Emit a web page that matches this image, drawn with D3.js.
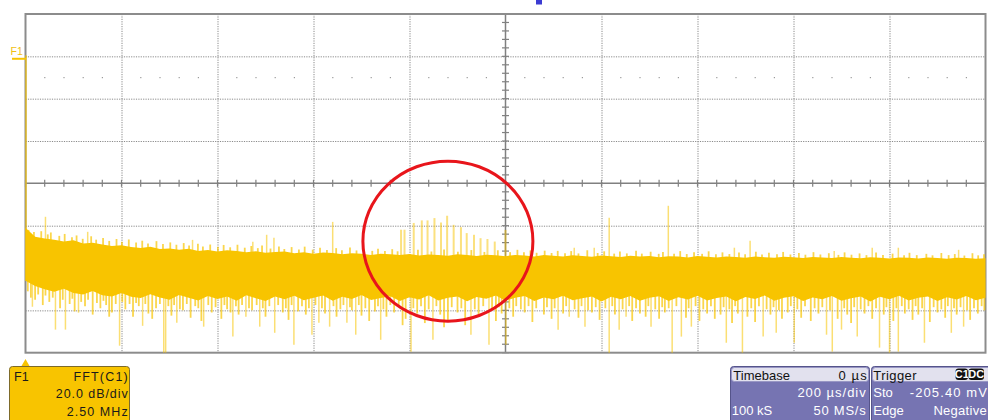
<!DOCTYPE html>
<html>
<head>
<meta charset="utf-8">
<script src="https://cdn.jsdelivr.net/npm/d3@7"></script>
<style>
  html, body { margin: 0; padding: 0; background: #fff; }
  svg { display: block; font-family: "Liberation Sans", Arial, sans-serif; }
</style>
</head>
<body>
<svg id="scope" width="988" height="420"></svg>
<script>
// ---- spectrum settings: 10 div x 2.50 MHz, 8 div x 20 dB ----
const spanMHz = 25;
const dbTop = 0, dbBottom = -160;
const freqTicks = [0, 2.5, 5, 7.5, 10, 12.5, 15, 17.5, 20, 22.5, 25];
const dbTicks = [0, -20, -40, -60, -80, -100, -120, -140, -160];
const refDotLevel = -30;          // dotted reference row
const binStep = 0.25;             // MHz between envelope samples
const dcLevel = -19.5;            // DC bin

// upper edge of the dense noise band (dB), one value per 0.25 MHz
const bandTop = [
  -101.0,-105.2,-106.1,-106.6,-107.5,-106.9,-108.4,-108.1,-108.9,-109.6,
  -109.2,-110.1,-110.5,-109.9,-111.0,-110.8,-111.4,-110.9,-111.9,-111.5,
  -112.2,-111.6,-111.9,-112.6,-112.1,-112.8,-112.4,-112.2,-113.0,-112.6,
  -113.3,-112.7,-112.9,-113.5,-113.0,-113.2,-113.8,-113.3,-113.5,-113.9,
  -113.4,-114.1,-113.6,-113.8,-114.2,-113.5,-113.9,-114.3,-113.7,-114.0,
  -114.4,-113.8,-114.1,-114.5,-113.9,-114.2,-114.6,-114.0,-114.3,-114.7,
  -114.1,-114.4,-114.8,-114.2,-114.5,-114.3,-114.9,-114.4,-114.6,-115.0,
  -114.3,-114.7,-115.0,-114.5,-114.8,-115.1,-114.6,-114.9,-115.2,-114.7,
  -114.9,-115.3,-114.8,-115.0,-115.3,-114.8,-115.1,-115.4,-114.9,-115.2,
  -115.5,-115.0,-115.2,-115.5,-115.0,-115.3,-115.6,-115.1,-115.3,-115.6,
  -115.4
];

// lower edge of the dense noise band (dB)
const bandBottom = [
  -126.0,-128.5,-130.0,-131.2,-129.8,-131.8,-132.5,-130.9,-132.9,-133.4,
  -131.8,-133.6,-134.2,-132.4,-133.9,-135.0,-132.8,-134.1,-135.3,-133.2,
  -134.6,-133.5,-135.4,-132.9,-134.3,-135.6,-133.4,-134.8,-133.1,-135.2,
  -134.0,-133.0,-135.5,-133.6,-134.6,-132.8,-135.1,-134.2,-133.3,-135.6,
  -133.8,-134.9,-132.9,-135.3,-134.0,-133.4,-135.7,-133.7,-134.5,-133.0,
  -135.4,-134.1,-133.2,-135.6,-133.9,-134.8,-133.1,-135.2,-134.3,-133.5,
  -135.8,-133.6,-134.7,-133.2,-135.4,-134.0,-133.3,-135.6,-133.8,-134.9,
  -133.1,-135.3,-134.2,-133.4,-135.7,-133.7,-134.6,-133.0,-135.5,-134.1,
  -133.3,-135.6,-133.9,-134.8,-133.2,-135.4,-134.3,-133.5,-135.8,-133.6,
  -134.7,-133.1,-135.3,-134.0,-133.4,-135.6,-133.8,-134.9,-133.2,-135.2,
  -134.0
];

// harmonic comb around 10-12.5 MHz [MHz, dB]
const harmonics = [
  [9.78,-101.9],[9.87,-101.9],[10.11,-98.7],[10.32,-97.5],[10.47,-97.5],
  [10.65,-96.4],[10.82,-98.5],[10.98,-95.3],[11.15,-99.6],[11.34,-100.7],
  [11.49,-103.5],[11.68,-104.3],[11.85,-105.9],[12.03,-106.3],[12.22,-107.5],
  [12.50,-102.0]
];

// isolated tall lines above the band [MHz, dB]
const upSpikes = [
  [0.52,-95.8],[1.62,-102.9],[4.35,-106.7],[5.92,-107.6],[6.28,-104.3],
  [6.47,-105.7],[8.00,-98.2],[14.29,-110.4],[14.81,-110.4],[15.20,-96.3],
  [16.74,-90.6],[18.46,-110.4],[18.87,-107.1],[21.06,-111.9],[22.05,-110.4],
  [22.73,-110.4],[24.30,-111.4]
];

// short excursions along the top edge [MHz, dB]
const upFringe = [
  [0.08,-102.0],[0.22,-103.0],[0.41,-102.6],[0.58,-104.1],[0.66,-103.2],[0.88,-104.8],
  [1.02,-103.9],[1.21,-105.5],[1.33,-104.6],[1.49,-106.2],[1.71,-105.0],[1.84,-106.6],
  [2.02,-105.8],[2.18,-107.2],[2.37,-106.3],[2.51,-107.6],[2.69,-106.5],[2.88,-108.0],
  [3.04,-107.1],[3.19,-108.4],[3.41,-107.3],[3.58,-108.6],[3.77,-107.9],[3.93,-109.0],
  [4.12,-108.2],[4.26,-109.4],[4.49,-108.5],[4.62,-109.8],[4.81,-108.9],[5.01,-110.0],
  [5.16,-109.1],[5.33,-110.2],[5.52,-109.0],[5.71,-110.4],[5.88,-109.6],[6.05,-110.6],
  [6.16,-109.4],[6.38,-110.8],[6.60,-109.8],[6.74,-111.0],[6.93,-110.1],[7.12,-111.2],
  [7.27,-109.9],[7.48,-111.3],[7.67,-110.4],[7.85,-111.5],[8.09,-110.6],[8.24,-111.6],
  [8.45,-110.3],[8.62,-111.7],[8.81,-110.8],[9.03,-111.9],[9.18,-110.9],[9.36,-112.0],
  [9.55,-111.1],[9.69,-112.1],[10.22,-111.4],[10.57,-112.2],[10.90,-111.3],[11.26,-112.3],
  [11.61,-111.5],[11.95,-112.4],[12.30,-111.6],[12.62,-112.5],[12.81,-111.4],[12.98,-112.6],
  [13.15,-111.7],[13.31,-112.8],[13.52,-111.8],[13.70,-112.9],[13.86,-111.9],[14.05,-113.0],
  [14.21,-112.0],[14.40,-113.1],[14.63,-111.6],[14.90,-112.9],[15.07,-112.1],[15.33,-113.2],
  [15.48,-112.2],[15.66,-113.1],[15.90,-111.8],[16.05,-113.2],[16.28,-112.3],[16.49,-113.3],
  [16.60,-112.4],[16.89,-113.2],[17.05,-112.0],[17.22,-113.4],[17.41,-112.5],[17.62,-113.3],
  [17.79,-112.1],[17.98,-113.5],[18.15,-112.6],[18.33,-113.4],[18.58,-112.7],[18.74,-113.5],
  [19.02,-112.3],[19.18,-113.6],[19.36,-112.8],[19.57,-113.5],[19.73,-112.4],[19.92,-113.6],
  [20.14,-112.9],[20.31,-113.7],[20.52,-112.5],[20.70,-113.6],[20.92,-113.0],[21.17,-113.8],
  [21.33,-112.6],[21.51,-113.7],[21.72,-113.1],[21.90,-113.9],[22.15,-112.7],[22.33,-113.8],
  [22.58,-113.2],[22.88,-114.0],[23.02,-112.8],[23.21,-113.9],[23.46,-113.3],[23.62,-114.0],
  [23.85,-112.9],[24.04,-113.9],[24.20,-113.4],[24.45,-114.1],[24.66,-113.0],[24.81,-114.0],
  [24.96,-113.5]
];

// deep nulls below the band [MHz, dB]
const downSpikes = [
  [0.18,-138.3],[0.78,-149.1],[1.04,-149.1],[1.38,-141.1],[2.45,-156.7],
  [3.05,-147.3],[3.60,-160.0],[3.65,-160.0],[3.94,-145.8],[4.64,-147.7],
  [5.40,-152.4],[5.74,-143.0],[6.10,-147.7],[6.49,-150.6],[6.99,-156.2],
  [7.46,-151.5],[7.64,-145.8],[7.92,-147.7],[8.37,-145.8],[8.60,-151.5],
  [9.25,-153.9],[10.04,-159.5],[10.61,-153.9],[11.60,-151.5],[12.07,-156.2],
  [12.51,-156.2],[13.87,-149.1],[14.16,-143.0],[14.57,-147.7],[15.20,-160.0],
  [15.46,-149.1],[15.64,-143.0],[16.29,-147.7],[16.84,-160.0],[17.08,-152.4],
  [17.34,-147.7],[18.25,-155.3],[18.67,-160.0],[19.21,-152.4],[19.55,-150.6],
  [20.02,-155.3],[20.86,-151.5],[21.01,-159.5],[21.25,-149.1],[21.66,-152.4],
  [22.24,-157.6],[22.50,-160.0],[22.73,-159.5],[23.41,-155.3],[24.11,-150.6],
  [24.43,-147.7]
];

// short excursions along the bottom edge [MHz, dB]
const downFringe = [
  [0.06,-131],[0.14,-134],[0.25,-135],[0.33,-132.5],[0.45,-137.5],[0.52,-133],[0.62,-136],
  [0.71,-134],[0.90,-139],[0.97,-135],[1.15,-137],[1.22,-134.5],[1.28,-140.5],[1.45,-136],
  [1.55,-138],[1.63,-135],[1.75,-142],[1.86,-136.5],[1.95,-139],[2.03,-135.5],[2.10,-137.5],
  [2.18,-143],[2.25,-141],[2.35,-137],[2.52,-136],[2.60,-139.5],[2.71,-137],[2.80,-143],
  [2.88,-136.5],[2.95,-138],[3.12,-137],[3.20,-141.5],[3.30,-144],[3.40,-139],[3.50,-137],
  [3.72,-138],[3.80,-142.5],[3.87,-137.5],[4.02,-139.5],[4.10,-140],[4.20,-137],[4.30,-143.5],
  [4.42,-138],[4.50,-139],[4.58,-145],[4.76,-137.5],[4.85,-141],[4.95,-138.5],[5.10,-144],
  [5.18,-137.5],[5.25,-139.5],[5.34,-141],[5.48,-138],[5.55,-142],[5.64,-137.5],[5.82,-139],
  [5.90,-140],[6.02,-137.5],[6.18,-139],[6.25,-143],[6.35,-138],[6.58,-137.5],[6.70,-141],
  [6.78,-139],[6.85,-144.5],[6.93,-137.5],[7.10,-140.5],[7.20,-138],[7.30,-142],[7.38,-139],
  [7.55,-137.5],[7.72,-139],[7.80,-141.5],[8.02,-138],[8.10,-143],[8.20,-139.5],[8.28,-137.5],
  [8.45,-138.5],[8.50,-140],[8.68,-137.5],[8.75,-142.5],[8.85,-139],[8.95,-145],[9.10,-140.5],
  [9.18,-138],[9.32,-139.5],[9.40,-143],[9.50,-137.5],[9.60,-141],[9.72,-138.5],[9.82,-147],
  [9.90,-144],[10.10,-139],[10.20,-141.5],[10.30,-138],[10.40,-146],[10.50,-139.5],[10.70,-138],
  [10.80,-142],[10.90,-148],[11.00,-144.5],[11.10,-138.5],[11.25,-141],[11.35,-139],[11.45,-147],
  [11.70,-139.5],[11.80,-142.5],[11.92,-138],[12.15,-140],[12.25,-145],[12.33,-138.5],[12.40,-141.5],
  [12.60,-139],[12.70,-143],[12.78,-138],[12.90,-139.5],[13.00,-141],[13.10,-138],[13.20,-145.5],
  [13.30,-139],[13.50,-142],[13.58,-138.5],[13.70,-144],[13.78,-139],[14.00,-141.5],[14.08,-138],
  [14.30,-139.5],[14.40,-143.5],[14.48,-138],[14.65,-140],[14.75,-141],[14.85,-138.5],[14.95,-144.5],
  [15.10,-139],[15.28,-138],[15.35,-142],[15.55,-139.5],[15.72,-138],[15.80,-145],[15.90,-139],
  [16.00,-141.5],[16.15,-143],[16.22,-138],[16.40,-139.5],[16.50,-144],[16.58,-138.5],[16.65,-141],
  [16.75,-139],[16.95,-138],[17.20,-143.5],[17.27,-139],[17.45,-138],[17.55,-145],[17.65,-139.5],
  [17.75,-141.5],[17.85,-138],[17.95,-144],[18.10,-142],[18.18,-138.5],[18.33,-139.5],[18.40,-146],
  [18.48,-138],[18.55,-141.5],[18.80,-143],[18.90,-139],[19.00,-145.5],[19.10,-138],[19.30,-139.5],
  [19.40,-142],[19.48,-138.5],[19.62,-140],[19.70,-144],[19.85,-141],[19.93,-138],[20.10,-139.5],
  [20.20,-143.5],[20.30,-138],[20.45,-145],[20.55,-139],[20.65,-141.5],[20.75,-138.5],[20.95,-140],
  [21.15,-144],[21.32,-139],[21.40,-142],[21.50,-146],[21.58,-138.5],[21.75,-139.5],[21.85,-141.5],
  [21.95,-138],[22.05,-144],[22.15,-139],[22.35,-142],[22.42,-138.5],[22.60,-145],[22.68,-139],
  [22.82,-138],[22.90,-141.5],[23.00,-139.5],[23.10,-144.5],[23.18,-138],[23.25,-142],[23.35,-139],
  [23.55,-145.5],[23.65,-138.5],[23.75,-141],[23.85,-139.5],[23.95,-143.5],[24.02,-138],[24.18,-139],
  [24.25,-142],[24.35,-138.5],[24.52,-140],[24.60,-144.5],[24.70,-139],[24.80,-141.5],[24.90,-138],
  [24.97,-140]
];

// info panels
const f1Panel = { name: "F1", func: "FFT(C1)", scale: "20.0 dB/div", span: "2.50 MHz" };
const timebasePanel = { title: "Timebase", delay: "0 µs", perDiv: "200 µs/div", samples: "100 kS", rate: "50 MS/s" };
const triggerPanel = { title: "Trigger", src: "C1", coupling: "DC", mode: "Sto", level: "-205.40 mV", type: "Edge", slope: "Negative" };

// ---- drawing ----
const traceColor = "#f8c400";
const plotLeft = 25.5, plotRight = 985.5, plotTop = 14, plotBottom = 352.7;
const x = d3.scaleLinear().domain([0, spanMHz]).range([plotLeft, plotRight]);
const y = d3.scaleLinear().domain([dbTop, dbBottom]).range([plotTop, plotBottom]);
const svg = d3.select("#scope");

svg.append("rect").attr("width", 988).attr("height", 420).attr("fill", "#fff");

// dotted graticule
const centerF = spanMHz / 2, centerDb = (dbTop + dbBottom) / 2;
const grid = svg.append("g").attr("class", "grid");
grid.append("g")
  .attr("transform", `translate(0,${plotTop})`)
  .call(d3.axisBottom(x)
    .tickValues(freqTicks.filter(f => f > 0 && f < spanMHz && f !== centerF))
    .tickSize(plotBottom - plotTop).tickFormat(""))
  .call(g => g.select(".domain").remove())
  .selectAll("line").attr("stroke", "#8a8a8a").attr("stroke-dasharray", "1.2,1.2");
grid.append("g")
  .attr("transform", `translate(${plotLeft},0)`)
  .call(d3.axisRight(y)
    .tickValues(dbTicks.filter(d => d < dbTop && d > dbBottom && d !== centerDb))
    .tickSize(plotRight - plotLeft).tickFormat(""))
  .call(g => g.select(".domain").remove())
  .selectAll("line").attr("stroke", "#8a8a8a").attr("stroke-dasharray", "1.2,1.2");

// reference dot row
const minorF = d3.range(0, spanMHz + 0.001, 0.5);
grid.selectAll("rect.refdot")
  .data(minorF.filter(f => Math.abs(f / 2.5 - Math.round(f / 2.5)) > 1e-6))
  .join("rect").attr("class", "refdot")
  .attr("x", f => x(f) - 0.5).attr("y", y(refDotLevel) - 0.5)
  .attr("width", 1.2).attr("height", 1.2).attr("fill", "#9a9a9a");

// center cross with minor ticks
const cross = svg.append("g").attr("stroke", "#808080");
cross.append("line").attr("x1", plotLeft).attr("x2", plotRight)
  .attr("y1", y(centerDb)).attr("y2", y(centerDb)).attr("stroke-width", 1.5);
cross.append("line").attr("x1", x(centerF)).attr("x2", x(centerF))
  .attr("y1", plotTop).attr("y2", plotBottom).attr("stroke-width", 1.5);
cross.selectAll("line.fx").data(minorF).join("line").attr("class", "fx")
  .attr("x1", f => x(f)).attr("x2", f => x(f))
  .attr("y1", y(centerDb) - 3.5).attr("y2", y(centerDb) + 3.5).attr("stroke-width", 1.2);
const minorDb = d3.range(dbTop, dbBottom - 0.001, -4);
cross.selectAll("line.dy").data(minorDb).join("line").attr("class", "dy")
  .attr("x1", x(centerF) - 3.5).attr("x2", x(centerF) + 3.5)
  .attr("y1", d => y(d)).attr("y2", d => y(d)).attr("stroke-width", 1.2);

// frame
svg.append("rect")
  .attr("x", plotLeft).attr("y", plotTop)
  .attr("width", plotRight - plotLeft).attr("height", plotBottom - plotTop)
  .attr("fill", "none").attr("stroke", "#8c8c8c").attr("stroke-width", 2);

// ---- FFT trace ----
const trace = svg.append("g");
const bins = bandTop.map((t, i) => ({ f: i * binStep, top: t, bottom: bandBottom[i] }));
const bandMid = f => {
  const i = Math.min(bins.length - 2, Math.floor(f / binStep));
  const a = bins[i], b = bins[i + 1], k = (f - a.f) / binStep;
  return ((a.top + a.bottom) / 2) * (1 - k) + ((b.top + b.bottom) / 2) * k;
};
const spikeLines = (data, cls, width, opacity) =>
  trace.selectAll("line." + cls).data(data).join("line").attr("class", cls)
    .attr("x1", d => x(d[0])).attr("x2", d => x(d[0]))
    .attr("y1", d => y(bandMid(d[0]))).attr("y2", d => y(d[1]))
    .attr("stroke", traceColor).attr("stroke-width", width).attr("stroke-opacity", opacity);

spikeLines(downFringe, "dfr", 1.8, 0.7);
spikeLines(upFringe, "ufr", 1.8, 0.7);
spikeLines(downSpikes, "dsp", 1.5, 0.55);
spikeLines(upSpikes, "usp", 1.5, 0.55);
spikeLines(harmonics, "hrm", 2, 0.5);

trace.append("path").datum(bins)
  .attr("d", d3.area().x(d => x(d.f)).y0(d => y(d.bottom)).y1(d => y(d.top)))
  .attr("fill", traceColor);

// DC bin
trace.append("line")
  .attr("x1", x(0) + 0.5).attr("x2", x(0) + 0.5)
  .attr("y1", y(dcLevel)).attr("y2", y(bins[0].bottom))
  .attr("stroke", traceColor).attr("stroke-width", 1.5).attr("stroke-opacity", 0.75);

// highlighted region
svg.append("ellipse")
  .attr("cx", x(11.0)).attr("cy", y(-107.3))
  .attr("rx", 85).attr("ry", 80)
  .attr("fill", "none").attr("stroke", "#e8151b").attr("stroke-width", 3);

// trace label and markers
svg.append("text").attr("x", 10.5).attr("y", 54.5)
  .attr("font-size", 10.5).attr("fill", "#f0c010").text(f1Panel.name);
svg.append("rect").attr("x", 12).attr("y", y(dcLevel) + 2.5)
  .attr("width", 14).attr("height", 2).attr("fill", traceColor);
svg.append("path")
  .attr("d", `M${x(0) - 4},366 L${x(0)},359 L${x(0) + 4},366 Z`)
  .attr("fill", traceColor);

// title fragment at the top edge
svg.append("rect").attr("x", 536).attr("y", 0).attr("width", 6).attr("height", 4.5).attr("fill", "#3b3bd2");

// ---- info panels ----
const fs = 12.5;
// widen a label toward its target width, by at most 15 %
const addText = (g, str, xPos, yPos, anchor, width, color, size) => {
  const t = g.append("text").attr("x", xPos).attr("y", yPos)
    .attr("text-anchor", anchor).attr("font-size", size || fs).attr("fill", color).text(str);
  if (width) {
    const natural = t.node().getComputedTextLength();
    if (natural < width) t.attr("textLength", Math.min(width, natural * 1.15)).attr("lengthAdjust", "spacing");
  }
  return t;
};

// F1 panel
const pf = svg.append("g");
pf.append("rect").attr("x", 9.5).attr("y", 366.5).attr("width", 120).attr("height", 60)
  .attr("rx", 3).attr("fill", traceColor).attr("stroke", "#7d6a2a").attr("stroke-width", 1);
addText(pf, f1Panel.name, 14, 381, "start", 14.3, "#1a1a1a");
addText(pf, f1Panel.func, 127.7, 381, "end", 55, "#1a1a1a");
addText(pf, f1Panel.scale, 127.7, 397.8, "end", 72.7, "#1a1a1a");
addText(pf, f1Panel.span, 127.7, 415.5, "end", 61, "#1a1a1a");

// Timebase panel
const panelFill = "#7674b2", headFill = "#e2e1ee";
const pt = svg.append("g");
pt.append("rect").attr("x", 730.5).attr("y", 366.5).attr("width", 139).attr("height", 60)
  .attr("rx", 3).attr("fill", panelFill).attr("stroke", "#55548a");
pt.append("rect").attr("x", 731.5).attr("y", 367.5).attr("width", 137).attr("height", 14)
  .attr("rx", 3).attr("fill", headFill).attr("stroke", "#9896c4");
addText(pt, timebasePanel.title, 733.3, 379.6, "start", 55, "#111", 13);
addText(pt, timebasePanel.delay, 866.7, 379.6, "end", 28.3, "#111", 13);
addText(pt, timebasePanel.perDiv, 865.7, 397, "end", 68.3, "#fff", 13);
addText(pt, timebasePanel.samples, 731.7, 414.5, "start", 33.3, "#fff", 13);
addText(pt, timebasePanel.rate, 865.7, 414.5, "end", 52.3, "#fff", 13);

// Trigger panel
const pg = svg.append("g");
pg.append("rect").attr("x", 871.5).attr("y", 366.5).attr("width", 130).attr("height", 60)
  .attr("rx", 3).attr("fill", panelFill).attr("stroke", "#55548a");
pg.append("rect").attr("x", 872.5).attr("y", 367.5).attr("width", 128).attr("height", 14)
  .attr("rx", 3).attr("fill", headFill).attr("stroke", "#9896c4");
addText(pg, triggerPanel.title, 873.3, 379.6, "start", 43.3, "#111", 13);
[[triggerPanel.src, 955.5, 12.5], [triggerPanel.coupling, 968.5, 15.5]].forEach(([s, bx, bw]) => {
  pg.append("rect").attr("x", bx).attr("y", 368.5).attr("width", bw).attr("height", 11.5)
    .attr("rx", 3).attr("fill", "#111");
  pg.append("text").attr("x", bx + bw / 2).attr("y", 378.3).attr("text-anchor", "middle")
    .attr("font-size", 11).attr("font-weight", "bold").attr("fill", "#fff").text(s);
});
addText(pg, triggerPanel.mode, 873.3, 397, "start", 18.3, "#fff", 13);
addText(pg, triggerPanel.level, 987, 397, "end", 88, "#fff", 13);
addText(pg, triggerPanel.type, 873.3, 414.5, "start", 25, "#fff", 13);
addText(pg, triggerPanel.slope, 986.7, 414.5, "end", 53.3, "#fff", 13);
</script>
</body>
</html>
